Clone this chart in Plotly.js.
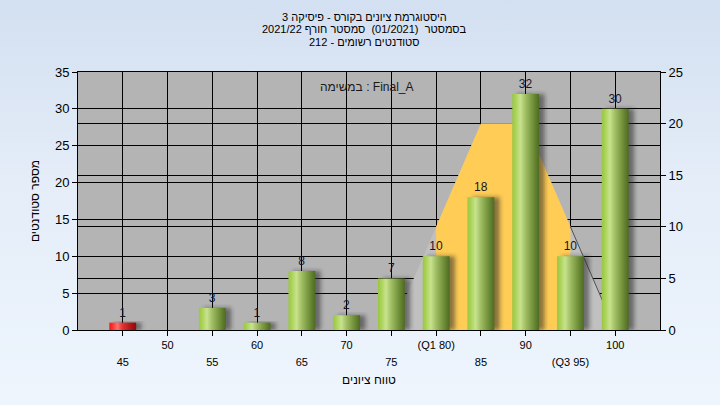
<!DOCTYPE html>
<html><head><meta charset="utf-8">
<script src="https://cdn.plot.ly/plotly-3.0.1.min.js"></script>
<style>
html,body{margin:0;padding:0;}
body{width:720px;height:405px;background:linear-gradient(to bottom,#d3e0f1 0%,#e4edf8 45%,#eef5fd 100%);overflow:hidden;}
#chart{width:720px;height:405px;}
</style></head><body><div id="chart"></div>
<script>
// ---- data ----
const grades = [45, 50, 55, 60, 65, 70, 75, 80, 85, 90, 95, 100];
const counts = [1, 0, 3, 1, 8, 2, 7, 10, 18, 32, 10, 30];
const tickLabels = ['45', '50', '55', '60', '65', '70', '75', '(Q1 80)', '85', '90', '(Q3 95)', '100'];
const lowerRow = [true, false, true, false, true, false, true, false, true, false, true, false];
const curveX = [75, 80, 85, 90, 95, 100];
const curveY = [0, 10, 20, 20, 10, 0];
const q1 = 80, q3 = 95;
const failBelow = 50;

const titleLines = [
  'היסטוגרמת ציונים בקורס - פיסיקה 3',
  'בסמסטר  (01/2021)  סמסטר חורף 2021/22',
  'סטודנטים רשומים - 212'
];
const taskLabel = 'במשימה : Final_A';
const yTitle = 'מספר סטודנטים';
const xTitle = 'טווח ציונים';

const RED = 'rgb(255, 0, 0)', GREEN = 'rgb(0, 160, 0)';
const barColors = grades.map(g => g < failBelow ? RED : GREEN);
const barText = counts.map(v => v ? String(v) : '');
const tickText = tickLabels.map((t, i) => (lowerRow[i] ? '<br>' : '') + '<span style="font-size:11px">' + t + '</span>');

const orangeX = curveX.filter(x => x >= q1 && x <= q3);
const orangeY = curveY.filter((y, i) => curveX[i] >= q1 && curveX[i] <= q3);
const lineX = curveX.filter(x => x >= q3);
const lineY = curveY.filter((y, i) => curveX[i] >= q3);

const traces = [
  { type: 'scatter', x: curveX, y: curveY, xaxis: 'x', yaxis: 'y', mode: 'lines', fill: 'tozeroy',
    fillcolor: '#c0c0c0', line: { width: 0, color: 'rgba(0,0,0,0)' }, hoverinfo: 'skip' },
  { type: 'scatter', x: orangeX, y: orangeY, xaxis: 'x', yaxis: 'y', mode: 'lines', fill: 'tozeroy',
    fillcolor: '#ffcc55', line: { width: 0, color: 'rgba(0,0,0,0)' }, hoverinfo: 'skip' },
  { type: 'scatter', x: lineX, y: lineY, xaxis: 'x', yaxis: 'y', mode: 'lines',
    line: { width: 1, color: '#505050' }, hoverinfo: 'skip' },
  { type: 'bar', x: grades, y: counts, xaxis: 'x', yaxis: 'y2', width: 3, offset: -0.9,
    marker: { color: 'rgba(40,40,40,0.55)', line: { width: 0 } }, hoverinfo: 'skip' },
  { type: 'bar', x: grades, y: counts, xaxis: 'x', yaxis: 'y2', width: 3,
    marker: { color: barColors, line: { width: 0 } },
    text: barText, textposition: 'outside', cliponaxis: false,
    textfont: { family: 'Liberation Sans, Arial, sans-serif', size: 12, color: '#15152a' }, hoverinfo: 'skip' }
];

const tickFontY = { family: 'Liberation Sans, Arial, sans-serif', size: 13, color: '#000' };
const titleFont = { size: 11, color: '#000' };
const layout = {
  width: 720, height: 405,
  margin: { l: 78, r: 60, t: 72, b: 75, pad: 0 },
  paper_bgcolor: 'rgba(0,0,0,0)', plot_bgcolor: '#b4b4b4',
  showlegend: false, barmode: 'overlay',
  font: { family: 'Liberation Sans, Arial, sans-serif', color: '#000' },
  xaxis: {
    range: [40, 105], tickvals: grades, ticktext: tickText, tickangle: 0, ticklabelstandoff: -3,
    tickfont: { family: 'Liberation Sans, Arial, sans-serif', size: 13, color: '#000' },
    ticks: 'outside', ticklen: 5, tickcolor: '#000', showgrid: true, gridcolor: '#000', gridwidth: 1,
    showline: true, linecolor: '#000', linewidth: 1, mirror: true, zeroline: false,
    title: { text: xTitle, font: { size: 12, color: '#000' }, standoff: 9 }
  },
  yaxis: {
    range: [0, 25], dtick: 5, side: 'right', tickfont: tickFontY,
    ticks: 'outside', ticklen: 5, tickcolor: '#000', showgrid: true, gridcolor: '#000', gridwidth: 1,
    showline: true, linecolor: '#000', zeroline: false
  },
  yaxis2: {
    range: [0, 35], dtick: 5, side: 'left', overlaying: 'y', tickfont: tickFontY,
    ticks: 'outside', ticklen: 5, tickcolor: '#000', showgrid: true, gridcolor: '#000', gridwidth: 1,
    showline: true, linecolor: '#000', zeroline: false,
    title: { text: yTitle, font: { size: 12, color: '#000' }, standoff: 12 }
  },
  annotations: [
    { xref: 'paper', yref: 'paper', x: 0.497, y: 0.942, text: taskLabel, showarrow: false,
      font: { size: 12, color: '#1a1a1a' }, xanchor: 'center', yanchor: 'middle' },
    ...titleLines.map((t, i) => ({ xref: 'paper', yref: 'paper', x: 0.493, y: 1.213 - i * 0.0475, text: t,
      showarrow: false, font: titleFont, xanchor: 'center', yanchor: 'middle' }))
  ]
};

Plotly.newPlot('chart', traces, layout, { staticPlot: true, displayModeBar: false }).then(gd => {
  const defs = gd.querySelector('svg.main-svg defs');
  const NS = 'http://www.w3.org/2000/svg';
  function grad(id, stops) {
    const g = document.createElementNS(NS, 'linearGradient');
    g.setAttribute('id', id); g.setAttribute('x1', '0'); g.setAttribute('x2', '1'); g.setAttribute('y1', '0'); g.setAttribute('y2', '0');
    stops.forEach(([o, c]) => { const s = document.createElementNS(NS, 'stop'); s.setAttribute('offset', o); s.setAttribute('stop-color', c); g.appendChild(s); });
    defs.appendChild(g);
  }
  grad('gGreen', [[0, '#98c743'], [0.12, '#a9d256'], [0.3, '#c8e28e'], [0.5, '#9fbd62'], [0.8, '#6c8c36'], [1, '#4e6a22']]);
  grad('gRed', [[0, '#f01818'], [0.12, '#ff3030'], [0.3, '#ff7070'], [0.5, '#e03030'], [0.8, '#b01515'], [1, '#8a0c0c']]);
  const f = document.createElementNS(NS, 'filter');
  f.setAttribute('id', 'fBlur'); f.setAttribute('x', '-50%'); f.setAttribute('y', '-20%'); f.setAttribute('width', '200%'); f.setAttribute('height', '140%');
  const b = document.createElementNS(NS, 'feGaussianBlur'); b.setAttribute('stdDeviation', '2');
  f.appendChild(b); defs.appendChild(f);
  const barTraces = gd.querySelectorAll('.barlayer .trace');
  barTraces[0].querySelectorAll('.point path').forEach(p => p.setAttribute('filter', 'url(#fBlur)'));
  barTraces[1].querySelectorAll('.point path').forEach(p => {
    const c = p.style.fill.replace(/\s/g, '');
    p.style.fill = c.indexOf('255,0,0') >= 0 ? 'url(#gRed)' : 'url(#gGreen)';
  });
});
</script></body></html>
